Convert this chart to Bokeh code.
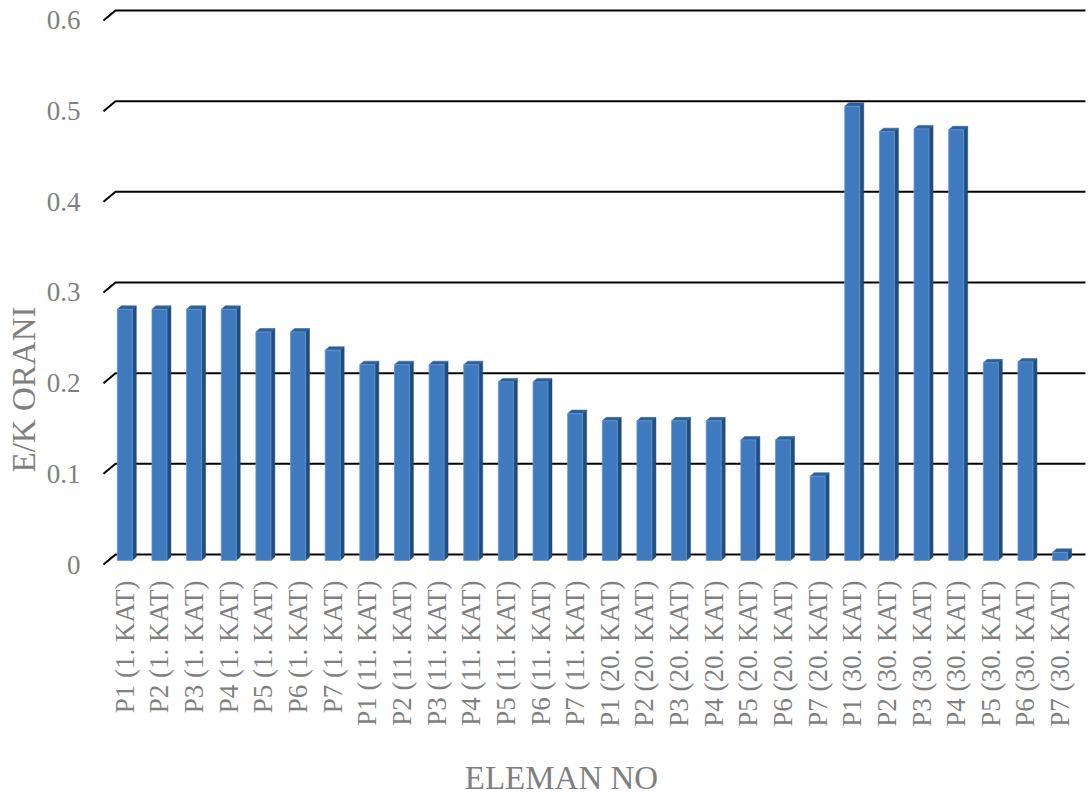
from bokeh.plotting import figure
from bokeh.models import Range1d, ColumnDataSource
from bokeh.core.properties import value
from bokeh.embed import file_html
from bokeh.resources import INLINE
import math

# ---------------- data ----------------
elements = ["P1", "P2", "P3", "P4", "P5", "P6", "P7"]
floors = ["1", "11", "20", "30"]
categories = [f"{e} ({f}. KAT)" for f in floors for e in elements]

ratio_kat1 = [0.277, 0.277, 0.277, 0.277, 0.252, 0.252, 0.232]
ratio_kat11 = [0.216, 0.216, 0.216, 0.216, 0.197, 0.197, 0.162]
ratio_kat20 = [0.154, 0.154, 0.154, 0.154, 0.133, 0.133, 0.093]
ratio_kat30 = [0.501, 0.473, 0.476, 0.475, 0.218, 0.219, 0.009]
ratios = ratio_kat1 + ratio_kat11 + ratio_kat20 + ratio_kat30

y_ticks = [0, 0.1, 0.2, 0.3, 0.4, 0.5, 0.6]
y_tick_labels = ["0", "0.1", "0.2", "0.3", "0.4", "0.5", "0.6"]

# ---------------- layout (pixels) ----------------
W, H = 1091, 796
SX = 34.64      # px per category
SY = 906.7      # px per unit of ratio
X0_PX = 115     # canvas x of back-plane left edge
Y0_PX = 554     # canvas y of back-plane zero line

x_start = -X0_PX / SX
x_end = x_start + W / SX
y_end = Y0_PX / SY
y_start = y_end - H / SY

def dx(px):
    return px / SX

def dy(px):
    return px / SY

FONT = "Liberation Serif"
GRAY = "#7f7f7f"

p = figure(width=W, height=H, x_range=Range1d(x_start, x_end),
           y_range=Range1d(y_start, y_end), min_border=0,
           toolbar_location=None, output_backend="svg",
           x_axis_location=None, y_axis_location=None)
p.grid.visible = False
p.outline_line_color = None
p.background_fill_color = "white"
p.border_fill_color = "white"

n = len(categories)

# ---- gridlines with perspective slant at left ----
gx, gy = [], []
for v in y_ticks:
    gx.append([-dx(12), 0, n])
    gy.append([v - dy(10), v, v])
p.multi_line(gx, gy, line_color="black", line_width=2)

# ---- y tick labels ----
p.text(x=[-dx(35)] * len(y_ticks), y=[v - dy(10) for v in y_ticks],
       text=y_tick_labels, text_font=value(FONT), text_font_size="27px",
       text_color=GRAY, text_align="right", text_baseline="middle")

# ---- 3D-ish bars ----
centers = [i + 0.5 for i in range(n)]
left = [c - dx(15.5) for c in centers]
right = [c - dx(0.5) for c in centers]
bottom = [-dy(6)] * n
top = [v - dy(6) for v in ratios]

side_xs, side_ys, top_xs, top_ys = [], [], [], []
for l, r, b, t in zip(left, right, bottom, top):
    side_xs.append([r, r, r + dx(4), r + dx(4)])
    side_ys.append([b, t, t + dy(3.5), b + dy(3.5)])
    top_xs.append([l, r, r + dx(4), l + dx(4)])
    top_ys.append([t, t, t + dy(3.5), t + dy(3.5)])

p.patches(side_xs, side_ys, fill_color="#1f4e7e", line_color="#1f4e7e", line_width=0.5)
p.patches(top_xs, top_ys, fill_color="#2f5f96", line_color="#2f5f96", line_width=0.5)
src = ColumnDataSource(dict(left=left, right=right, bottom=bottom, top=top))
p.quad(left="left", right="right", bottom="bottom", top="top", source=src,
       fill_color="#3f79be", line_color="#6b97cf", line_width=0.8)

# ---- x tick labels (rotated) ----
p.text(x=[c - dx(8) for c in centers], y=[-dy(26)] * n, text=categories,
       angle=math.pi / 2, text_font=value(FONT), text_font_size="27px",
       text_color=GRAY, text_align="right", text_baseline="middle")

# ---- axis titles ----
p.text(x=[-dx(92)], y=[dy(165)], text=["E/K ORANI"], angle=math.pi / 2,
       text_font=value(FONT), text_font_size="33px", text_color=GRAY,
       text_align="center", text_baseline="middle")
p.text(x=[dx(446)], y=[-dy(223)], text=["ELEMAN NO"],
       text_font=value(FONT), text_font_size="33px", text_color=GRAY,
       text_align="center", text_baseline="middle")

open("out.html", "w").write(file_html(p, INLINE))
